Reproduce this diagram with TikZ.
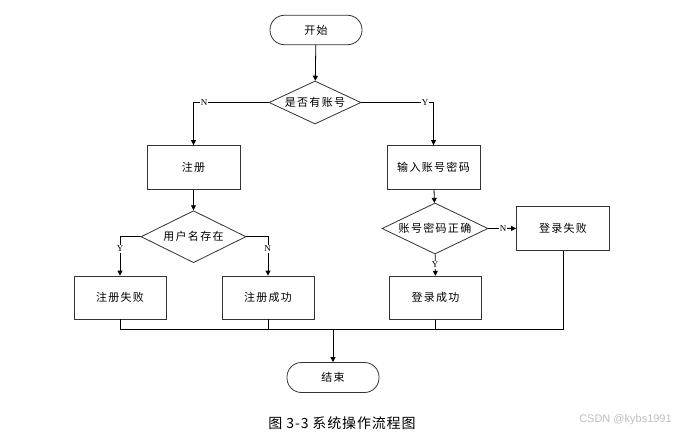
\documentclass[tikz,border=0pt]{standalone}
\usepackage{fontspec}
\setmainfont{Liberation Serif}
\newfontfamily\cjk[LetterSpace=12]{Noto Sans CJK SC}
\newfontfamily\capfont[LetterSpace=6]{Noto Sans CJK SC}
\newfontfamily\wmfont{Liberation Sans}
\usetikzlibrary{shapes.geometric,arrows.meta}
\tikzset{
  base/.style={draw=black!80, line width=0.8pt, font=\cjk\fontsize{11}{12}\selectfont, inner sep=0pt, fill=white},
  boxnode/.style={base, rectangle, minimum width=92pt, minimum height=43pt},
  termnode/.style={base, rectangle, rounded corners=14.5pt, minimum width=92pt, minimum height=29.5pt},
  decnode/.style={base, diamond, shape aspect=2},
  conn/.style={draw=black, line width=0.8pt},
  arr/.style={conn, -{Triangle[length=5pt,width=5pt]}},
  yn/.style={font=\fontsize{9}{10}\selectfont, fill=white, inner sep=0.6pt},
}
\begin{document}
\begin{tikzpicture}[x=1pt,y=-1pt]
\useasboundingbox (0,0) rectangle (687,433);
\fill[white] (0,0) rectangle (687,433);

\node[termnode] (start) at (316,30) {开始};
\node[decnode, minimum width=92pt, minimum height=43pt] (d1) at (315,102.5) {是否有账号};
\node[boxnode, minimum width=93pt, minimum height=44pt] (reg) at (193.5,167.5) {注册};
\node[boxnode, minimum width=93pt, minimum height=44pt] (inp) at (433.5,167.5) {输入账号密码};
\node[decnode, minimum width=105pt, minimum height=52pt] (d2) at (193.5,236.7) {用户名存在};
\node[decnode, minimum width=106pt, minimum height=51pt] (d3) at (435,228.5) {账号密码正确};
\node[boxnode] (f1) at (120,297.5) {注册失败};
\node[boxnode] (s1) at (268,297.5) {注册成功};
\node[boxnode, minimum width=93pt, minimum height=44pt] (lf) at (563,228.3) {登录失败};
\node[boxnode] (ls) at (435.5,297.7) {登录成功};
\node[termnode, minimum height=30pt] (end) at (333,377.5) {结束};

\coordinate (jl) at (120,329);
\coordinate (jr) at (563,329);
\coordinate (jm) at (333,329);

\draw[arr] (start) -- (d1);
\draw[arr] (d1.west) -| (reg.north);
\draw[arr] (d1.east) -| (inp.north);
\draw[arr] (reg) -- (d2);
\draw[arr] (d2.west) -| (f1.north);
\draw[arr] (d2.east) -| (s1.north);
\draw[arr] (inp) -- (d3);
\draw[arr] (d3) -- (lf);
\draw[arr] (d3) -- (ls);

\draw[conn] (f1.south) -- (jl) -- (jr) -- (lf.south);
\draw[conn] (s1.south) -- (s1.south |- jl);
\draw[conn] (ls.south) -- (ls.south |- jl);
\draw[arr] (jm) -- (end);

\node[yn] (n1) at (204,102.5) {N};
\node[yn] (y1) at (425,102.5) {Y};
\node[yn] (y2) at (120,249) {Y};
\node[yn] (n2) at (267.7,249) {N};
\node[yn] (n3) at (503,228.5) {N};
\node[yn] (y3) at (435,265) {Y};

\node[font=\capfont\fontsize{14}{15}\selectfont, inner sep=0pt] (cap) at (342,423.5) {图 3-3 系统操作流程图};
\node[font=\wmfont\fontsize{11}{12}\selectfont, text=black!25, inner sep=0pt] (wm) at (625.5,420) {CSDN @kybs1991};
\end{tikzpicture}
\end{document}
